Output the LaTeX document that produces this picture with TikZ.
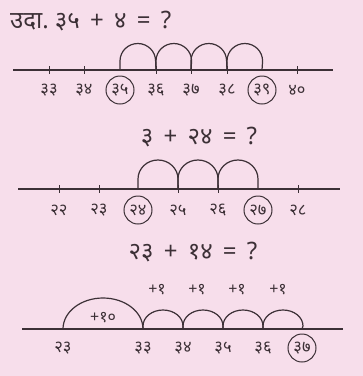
\documentclass[tikz,border=0pt]{standalone}
\usepackage{fontspec}
\newfontfamily\deva[Script=Devanagari]{Noto Sans}
\definecolor{bg}{RGB}{247,222,235}
\definecolor{ink}{RGB}{60,48,54}
\begin{document}
\begin{tikzpicture}[x=1pt,y=-1pt,
  nline/.style={draw=ink,line width=1.2pt},
  tickmark/.style={draw=ink,line width=1pt},
  arcline/.style={draw=ink,line width=1.2pt},
  numlab/.style={text=ink,font=\deva\fontsize{16.5}{18}\selectfont,inner sep=1pt},
  ringed/.style={numlab,draw=ink,line width=1pt,circle,minimum size=28pt,inner sep=0pt},
  title/.style={text=ink,font=\deva\fontsize{24}{26}\selectfont,inner sep=0pt},
  plus/.style={text=ink,font=\deva\fontsize{16}{18}\selectfont,inner sep=0pt}]
\fill[bg] (0,0) rectangle (363,376);
\useasboundingbox (0,0) rectangle (363,376);

% Panel 1
\node[title,anchor=west] (t1) at (10,21) {उदा.\ ३५ \,+\, ४ \,=\, ?};
\coordinate (l1a) at (13,70);
\coordinate (l1b) at (333,70);
\draw[nline] (l1a) -- (l1b);
\foreach \i/\x/\t in {0/49/३३,1/84/३४,3/156/३६,4/191/३७,5/227/३८,7/297/४०}{
  \coordinate (p1\i) at (\x,70);
  \draw[tickmark] (\x,66) -- (\x,74);
  \node[numlab] (n1\i) at (\x,90) {\t};
}
\coordinate (p12) at (120,70);
\coordinate (p16) at (262,70);
\node[ringed] (n12) at (120,90) {३५};
\node[ringed] (n16) at (262,90) {३९};
\foreach \a/\b in {p12/p13,p13/p14,p14/p15,p15/p16}{
  \draw[arcline] (\a) -- ++(0,-9) arc[start angle=180,end angle=360,x radius=17.8,y radius=17.5] -- (\b);
}

% Panel 2
\node[title] (t2) at (199,137) {३ \,+\, २४ \,=\, ?};
\coordinate (l2a) at (18,189);
\coordinate (l2b) at (340,189);
\draw[nline] (l2a) -- (l2b);
\foreach \i/\x/\t in {0/59/२२,1/99/२३,3/178/२५,4/218/२६,6/298/२८}{
  \coordinate (q2\i) at (\x,189);
  \draw[tickmark] (\x,185) -- (\x,193);
  \node[numlab] (m2\i) at (\x,210) {\t};
}
\coordinate (q22) at (138,189);
\coordinate (q25) at (258,189);
\node[ringed] (m22) at (138,210) {२४};
\node[ringed] (m25) at (258,210) {२७};
\foreach \a/\b in {q22/q23,q23/q24,q24/q25}{
  \draw[arcline] (\a) -- ++(0,-10) arc[start angle=180,end angle=360,x radius=20,y radius=19] -- (\b);
}

% Panel 3
\node[title] (t3) at (193,252) {२३ \,+\, १४ \,=\, ?};
\coordinate (l3a) at (22,329);
\coordinate (l3b) at (343,329);
\draw[nline] (l3a) -- (l3b);
\coordinate (r0) at (63,329);
\coordinate (r1) at (143,329);
\coordinate (r2) at (183,329);
\coordinate (r3) at (223,329);
\coordinate (r4) at (263,329);
\coordinate (r5) at (302,329);
\node[numlab] (k0) at (63,348) {२३};
\node[numlab] (k1) at (143,348) {३३};
\node[numlab] (k2) at (183,348) {३४};
\node[numlab] (k3) at (223,348) {३५};
\node[numlab] (k4) at (263,348) {३६};
\node[ringed] (k5) at (302,348) {३७};
\draw[arcline] (r0) arc[start angle=180,end angle=360,x radius=40,y radius=31];
\node[plus] (pt) at (103,318) {+१०};
\foreach \a/\b in {r1/r2,r2/r3,r3/r4,r4/r5}{
  \draw[arcline] (\a) -- ++(0,-3) arc[start angle=180,end angle=360,x radius=20,y radius=16] -- (\b);
}
\node[plus] (pa) at (157,290) {+१};
\node[plus] (pb) at (197,290) {+१};
\node[plus] (pc) at (237,290) {+१};
\node[plus] (pd) at (278,290) {+१};
\end{tikzpicture}
\end{document}
